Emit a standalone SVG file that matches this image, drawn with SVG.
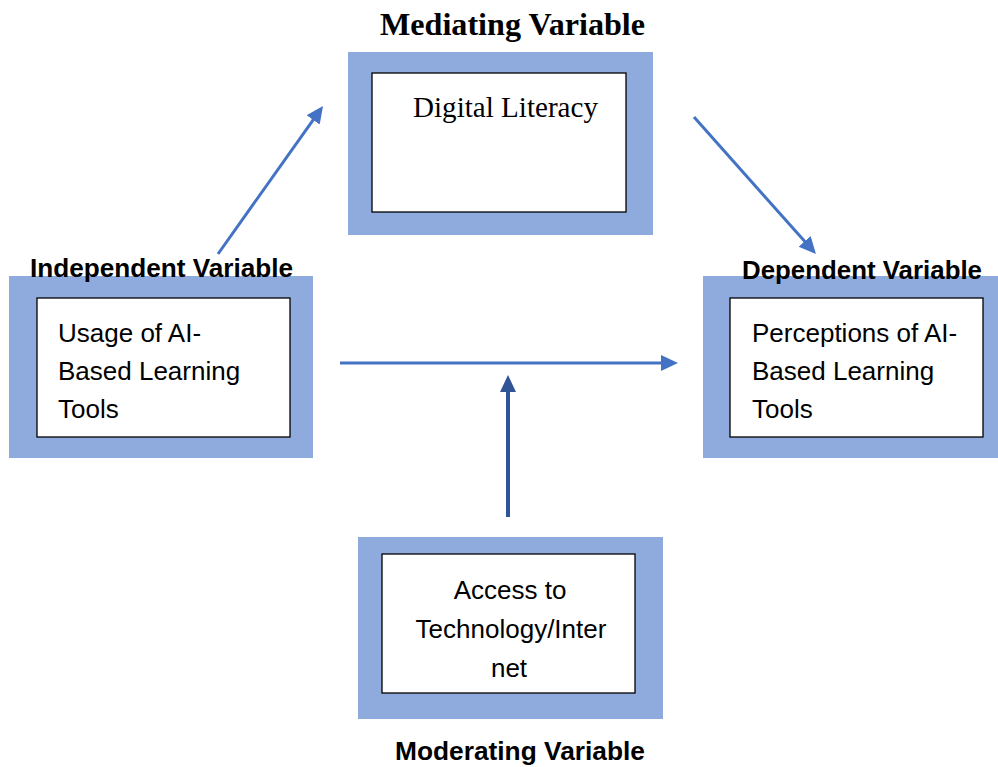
<svg xmlns="http://www.w3.org/2000/svg" width="998" height="767" viewBox="0 0 998 767">
  <style>
    .frame { fill: #8FAADC; }
    .box { fill: #FFFFFF; stroke: #000000; stroke-width: 1.3; }
    .title { font-family: "Liberation Sans", Arial, sans-serif; font-weight: bold; font-size: 26px; fill: #000000; }
    .serif-title { font-family: "Liberation Serif", "Times New Roman", serif; font-weight: bold; font-size: 31.7px; fill: #000000; }
    .body { font-family: "Liberation Sans", Arial, sans-serif; font-size: 26px; fill: #000000; }
    .serif-body { font-family: "Liberation Serif", "Times New Roman", serif; font-size: 29px; fill: #000000; }
    .link { fill: none; stroke: #4472C4; stroke-width: 3; }
    .link-strong { fill: none; stroke: #2F5597; stroke-width: 4; }
  </style>
  <defs>
    <marker id="head" markerUnits="userSpaceOnUse" markerWidth="18" markerHeight="17" refX="4" refY="8" orient="auto">
      <path d="M0,0 L17,8 L0,16 Z" fill="#4472C4"/>
    </marker>
    <marker id="head-strong" markerUnits="userSpaceOnUse" markerWidth="18" markerHeight="17" refX="4" refY="8" orient="auto">
      <path d="M0,0 L17,8 L0,16 Z" fill="#2F5597"/>
    </marker>
  </defs>

  <rect width="998" height="767" fill="#FFFFFF"/>

  <!-- Mediating variable -->
  <g id="mediating">
    <text class="serif-title" x="380" y="35" textLength="265" lengthAdjust="spacingAndGlyphs">Mediating Variable</text>
    <rect class="frame" x="348" y="52" width="305" height="183"/>
    <rect class="box" x="372" y="73" width="254" height="139"/>
    <text class="serif-body" x="413" y="117" textLength="185" lengthAdjust="spacingAndGlyphs">Digital Literacy</text>
  </g>

  <!-- Independent variable -->
  <g id="independent">
    <rect class="frame" x="9" y="276" width="304" height="182"/>
    <text class="title" x="30" y="277" textLength="263" lengthAdjust="spacingAndGlyphs">Independent Variable</text>
    <rect class="box" x="37" y="298" width="253" height="139"/>
    <text class="body" x="58" y="342">Usage of AI-</text>
    <text class="body" x="58" y="380">Based Learning</text>
    <text class="body" x="58" y="418">Tools</text>
  </g>

  <!-- Dependent variable -->
  <g id="dependent">
    <rect class="frame" x="703" y="276" width="295" height="182"/>
    <text class="title" x="742" y="279" textLength="240" lengthAdjust="spacingAndGlyphs">Dependent Variable</text>
    <rect class="box" x="730" y="298" width="253" height="139"/>
    <text class="body" x="752" y="342">Perceptions of AI-</text>
    <text class="body" x="752" y="380">Based Learning</text>
    <text class="body" x="752" y="418">Tools</text>
  </g>

  <!-- Moderating variable -->
  <g id="moderating">
    <rect class="frame" x="358" y="537" width="305" height="182"/>
    <rect class="box" x="382" y="554" width="253" height="139"/>
    <text class="body" x="510" y="599" text-anchor="middle">Access to</text>
    <text class="body" x="511" y="638" text-anchor="middle">Technology/Inter</text>
    <text class="body" x="509" y="677" text-anchor="middle">net</text>
    <text class="title" x="395" y="760" textLength="250" lengthAdjust="spacingAndGlyphs">Moderating Variable</text>
  </g>

  <!-- Connectors -->
  <g id="connectors">
    <line class="link" x1="218" y1="254" x2="315.5" y2="116.6" marker-end="url(#head)"/>
    <line class="link" x1="694" y1="117" x2="807.3" y2="244.3" marker-end="url(#head)"/>
    <line class="link" x1="340" y1="363" x2="665" y2="363" marker-end="url(#head)"/>
    <line class="link-strong" x1="508" y1="517" x2="508" y2="388" marker-end="url(#head-strong)"/>
  </g>
</svg>
